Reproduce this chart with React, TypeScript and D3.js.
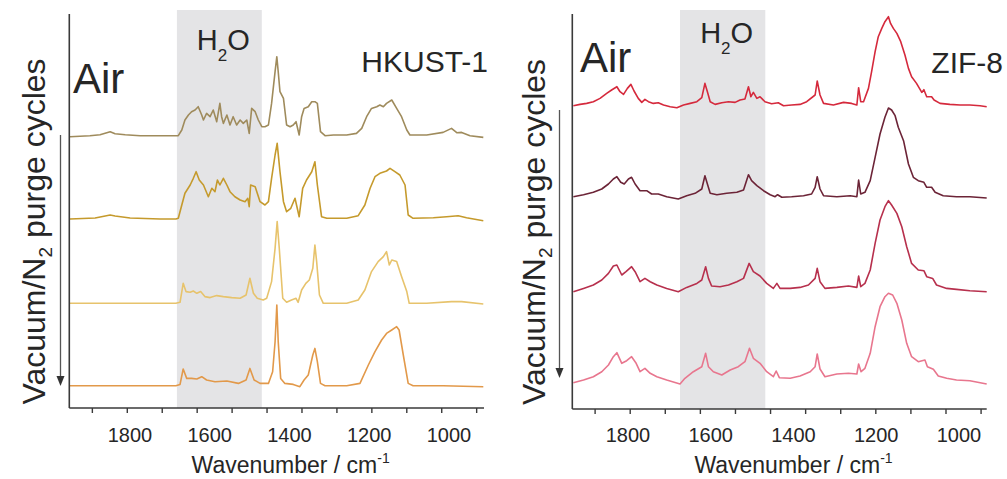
import React from 'react';
import * as d3 from 'd3';

// ---------- data (wavenumber in cm-1, intensity in a.u. above each trace's baseline) ----------
const tickValues = [1900, 1800, 1700, 1600, 1500, 1400, 1300, 1200, 1100, 1000, 900, 800];
const tickLabels = [1800, 1600, 1400, 1200, 1000];
const waterBand: [number, number] = [1658, 1415];

const hkustAir: [number, number][] = [
  [1964,0],[1907,1],[1878,2],[1849,5],[1835,3],[1806,2],[1763,1],[1706,1],[1663,1],
  [1654,1],[1644,6.7],[1635,16.7],[1625,21.7],[1616,25],[1606,26.7],[1597,30],[1587,21.7],[1582,16.7],[1573,23.3],[1563,20],[1554,26.7],[1544,15],[1535,33.3],[1530,20],[1525,13.3],[1515,21.7],[1506,11.7],[1497,20],[1487,11.7],[1477,16.7],[1468,13.3],[1458,16.7],[1451,3.3],[1444,28.3],[1434,25],[1425,16.7],[1415,10],[1406,10],[1396,11.7],[1387,33.3],[1377,65],[1372,80],[1368,65],[1363,45],[1353,38.3],[1344,11.7],[1334,10],[1325,11.7],[1317,15],[1308,1.7],[1301,20],[1294,28.3],[1282,30],[1272,35],[1263,35],[1256,33.3],[1247,5],[1234,1],[1210,1.7],[1172,1.7],[1144,3.3],[1129,8.3],[1115,20],[1101,28.3],[1086,30],[1077,31.7],[1067,30],[1058,33.3],[1043,36.7],[1029,28.3],[1015,20],[1000,6.7],[991,1.7],[943,1.7],[896,4.3],[872,8.3],[857,4],[843,4.3],[819,1],[781,-0.7]
];
const hkustCycle1: [number, number][] = [
  [1964,0],[1892,1],[1849,4],[1835,3],[1792,1],[1706,0],[1661,0],
  [1654,0.7],[1644,14],[1635,25.7],[1620,34],[1611,40.7],[1603,47.3],[1594,39],[1582,34],[1568,22.3],[1558,30.7],[1549,27.3],[1542,39],[1535,34],[1525,40.7],[1515,34],[1506,27.3],[1492,22.3],[1477,19],[1463,17.3],[1455,20.7],[1451,12.3],[1447,34],[1434,32.3],[1420,17.3],[1406,14],[1396,17.3],[1387,40.7],[1377,64],[1371,75.7],[1363,47.3],[1353,17.3],[1344,7.3],[1332,10.7],[1320,20.7],[1308,2.3],[1298,30.7],[1287,39],[1272,47.3],[1263,57.3],[1256,34],[1244,2.3],[1229,0.7],[1172,0.7],[1139,3.3],[1120,14],[1105,30.7],[1091,42.3],[1077,45.7],[1058,48],[1048,50.7],[1034,47.3],[1020,44],[1005,34],[996,4],[982,0.7],[924,1.3],[886,2.3],[853,3.3],[829,1.3],[781,-1.7]
];
const hkustCycle2: [number, number][] = [
  [1964,0],[1820,0],[1706,0],[1661,0],
  [1649,1],[1640,20],[1632,11.7],[1620,11],[1611,12.3],[1601,10],[1590,11.7],[1578,6.7],[1563,5.7],[1544,7.7],[1525,6.7],[1501,5.7],[1477,5],[1460,8.3],[1449,25],[1439,10],[1428,5],[1411,3.3],[1401,5],[1387,21.7],[1377,55],[1371,81.7],[1365,55],[1355,5],[1344,1],[1330,3.3],[1317,5],[1311,1],[1301,13.3],[1289,20],[1279,23.3],[1269,35],[1263,58.3],[1258,41.7],[1250,8.3],[1239,0],[1172,0],[1139,3.3],[1120,13.3],[1101,31.7],[1082,41.7],[1067,46.7],[1058,51.7],[1050,38.3],[1043,43.3],[1029,41.7],[1015,26.7],[1000,11.7],[993,0],[943,0],[872,1.7],[843,1.7],[781,-0.7]
];
const hkustCycle3: [number, number][] = [
  [1964,0],[1820,0],[1706,0],[1661,0],
  [1649,1.3],[1640,16.7],[1630,7.3],[1616,7.3],[1601,6.7],[1587,9],[1573,5.7],[1549,4],[1515,4.7],[1482,2.3],[1460,5.7],[1449,17.3],[1437,5.7],[1420,2.3],[1396,2.3],[1384,14],[1377,44],[1372,80.7],[1368,44],[1361,7.3],[1349,2.3],[1325,1.3],[1306,-1],[1294,5.7],[1282,10.7],[1269,30.7],[1263,37.3],[1256,24],[1247,2.3],[1234,0],[1172,0],[1134,2.3],[1110,20.7],[1091,34],[1072,45.7],[1058,52.3],[1043,55.7],[1029,59],[1022,55.7],[1010,30.7],[996,2.3],[982,0],[896,0],[781,-1]
];

const zifAir: [number, number][] = [
  [1962,2],[1943,3.3],[1924,4.3],[1905,6],[1886,9.3],[1867,14.3],[1853,17.7],[1838,21],[1829,16],[1819,13.3],[1808,19.3],[1798,23.3],[1789,16.7],[1777,9.3],[1767,5.3],[1758,8.3],[1748,6],[1734,4.3],[1720,5],[1705,2.7],[1686,1],[1667,0],[1648,2.7],[1629,4.3],[1610,6],[1596,10],[1587,24.3],[1580,16],[1572,6],[1558,3.3],[1539,5],[1520,6],[1501,5.3],[1487,7.7],[1473,8.7],[1463,21],[1456,11],[1449,15.3],[1439,9.3],[1430,11],[1416,6],[1397,4],[1378,5],[1363,2],[1340,2.7],[1316,3.3],[1297,6],[1273,12.7],[1267,26.7],[1259,12.7],[1249,4.3],[1221,2.7],[1192,5.3],[1169,4.3],[1154,2.7],[1149,20],[1143,6],[1135,6],[1121,19.3],[1112,36],[1102,56],[1093,71],[1083,79.3],[1074,86],[1064,91],[1058,84.3],[1050,79.3],[1040,74.3],[1029,66],[1017,52.7],[1007,39.3],[998,31],[984,24.3],[969,15.3],[963,18],[955,11],[941,11],[934,7.7],[917,4.3],[889,3.3],[860,2.7],[832,2.7],[803,2],[784,1]
];
const zifCycle1: [number, number][] = [
  [1962,2.3],[1933,4.3],[1905,6.7],[1881,10],[1862,15],[1848,20],[1838,22.3],[1827,16.7],[1817,15],[1805,20],[1796,21.7],[1786,15],[1772,8.3],[1753,8.3],[1739,5],[1720,5],[1696,2.3],[1663,0],[1639,3.3],[1615,5.7],[1596,10],[1587,23.3],[1580,15],[1572,5.7],[1553,4.3],[1525,5.7],[1496,6.7],[1477,9],[1463,24.3],[1454,18.3],[1439,13.3],[1420,8.3],[1401,4.3],[1387,2.3],[1380,4.3],[1368,1.7],[1340,2.3],[1306,3.3],[1283,5],[1273,11.7],[1267,22.3],[1259,10],[1249,3.3],[1211,2.3],[1173,3.3],[1154,2.3],[1149,19],[1143,5],[1131,6.7],[1116,18.3],[1102,41.7],[1088,65],[1074,81.7],[1064,91],[1055,89],[1045,83.3],[1036,71.7],[1021,58.3],[1007,35],[993,21.7],[979,18.3],[963,16.7],[955,11.7],[941,11.7],[931,6.7],[908,3.3],[870,2.3],[832,2.3],[784,1]
];
const zifCycle2: [number, number][] = [
  [1962,0],[1933,3.3],[1905,6.7],[1881,11.7],[1862,18.3],[1848,25.7],[1838,26.7],[1824,16.7],[1812,20],[1796,25],[1786,20],[1772,10],[1758,13.3],[1743,10],[1724,6.7],[1696,3.3],[1663,0],[1639,4.3],[1610,8.3],[1596,11.7],[1585,25],[1577,13.3],[1568,5.7],[1544,5],[1520,6.7],[1496,10],[1477,13.3],[1461,28.3],[1449,20],[1430,15.7],[1411,8.3],[1392,3.3],[1382,8.3],[1373,3.3],[1344,3.3],[1316,4.3],[1292,6.7],[1273,13.3],[1267,23.3],[1259,10],[1245,3.3],[1211,4.3],[1178,5.7],[1154,4.3],[1149,15.7],[1143,5],[1131,8.3],[1116,21.7],[1102,48.3],[1088,71.7],[1074,85],[1064,91],[1055,86.7],[1040,78.3],[1026,65],[1012,45],[998,28.3],[979,21.7],[963,21],[955,15],[938,13.3],[927,6.7],[898,3.3],[870,2.3],[832,1],[784,0]
];
const zifCycle3: [number, number][] = [
  [1962,1.3],[1933,4],[1905,7.3],[1881,12.3],[1862,19],[1848,27.3],[1838,31.3],[1824,20.7],[1810,23.3],[1796,27.3],[1783,20.7],[1772,12.3],[1758,15.7],[1743,10.7],[1724,7.3],[1696,4],[1658,0],[1644,5.7],[1620,12.3],[1596,17.3],[1585,30.7],[1577,17.3],[1563,12.3],[1539,9],[1515,14],[1492,17.3],[1473,22.3],[1460,35.7],[1449,25.7],[1430,20.7],[1411,12.3],[1392,7.3],[1384,13],[1375,6.3],[1344,5.7],[1316,8],[1287,12.3],[1273,17.3],[1267,30],[1259,15],[1245,7.3],[1211,10],[1178,10.7],[1154,10],[1149,20],[1142,12.3],[1131,15.7],[1116,30.7],[1102,57.3],[1088,77.3],[1074,87.3],[1064,90.7],[1052,89],[1040,80.7],[1026,64],[1012,40.7],[998,27.3],[979,22.3],[960,24],[953,17.3],[936,14.7],[922,8],[898,5.7],[870,4],[832,3.3],[784,0]
];

const hkustSeries = [hkustAir, hkustCycle1, hkustCycle2, hkustCycle3];
const hkustOffsets = [271.3, 189, 104.7, 22.3];
const hkustColors = ['#9f8b5c', '#c59a2c', '#e7c36c', '#e2994a'];

const zifSeries = [zifAir, zifCycle1, zifCycle2, zifCycle3];
const zifOffsets = [301.3, 210, 117.3, 25];
const zifColors = ['#d5293c', '#6c2437', '#b7304d', '#e8768e'];

// ---------- layout ----------
const FONT = '"Liberation Sans", Arial, Helvetica, sans-serif';
const TEXT = '#262626';
const AXIS = '#3a3a3a';

type PanelCfg = {
  key: string;
  series: [number, number][][];
  offsets: number[];
  colors: string[];
  domain: [number, number];
  xRange: [number, number];
  yRange: [number, number];
  yMax: number;
  axisTop: number;
  labelRange: [number, number];
  arrowX: number;
  arrowTop: number;
  arrowBottom: number;
  ylabelX: number;
  airX: number;
  airY: number;
  name: string;
  nameX: number;
  nameY: number;
  h2oY: number;
};

const panels: PanelCfg[] = [
  {
    key: 'hkust', series: hkustSeries, offsets: hkustOffsets, colors: hkustColors,
    domain: [1966, 779], xRange: [69.3, 484], yRange: [408, 10], yMax: 398, axisTop: 14,
    labelRange: [130, 449], arrowX: 60.5, arrowTop: 135, arrowBottom: 386, ylabelX: 45,
    airX: 73, airY: 93, name: 'HKUST-1', nameX: 488, nameY: 72, h2oY: 50,
  },
  {
    key: 'zif', series: zifSeries, offsets: zifOffsets, colors: zifColors,
    domain: [1965, 784], xRange: [572.3, 986.7], yRange: [409, 10], yMax: 399, axisTop: 14,
    labelRange: [628, 959], arrowX: 559.5, arrowTop: 110, arrowBottom: 378, ylabelX: 545,
    airX: 580, airY: 72, name: 'ZIF-8', nameX: 1003, nameY: 73, h2oY: 43,
  },
];

function Panel({ cfg }: { cfg: PanelCfg }) {
  const x = d3.scaleLinear().domain(cfg.domain).range(cfg.xRange);
  const y = d3.scaleLinear().domain([0, cfg.yMax]).range(cfg.yRange);
  const labelX = d3.scaleLinear().domain([tickLabels[0], tickLabels[tickLabels.length - 1]]).range(cfg.labelRange);
  const axisY = cfg.yRange[0];
  const band0 = x(waterBand[0]);
  const band1 = x(waterBand[1]);
  const yCenter = (55 + axisY) / 2;
  return (
    <g>
      <rect x={band0} y={cfg.yRange[1]} width={band1 - band0} height={axisY - cfg.yRange[1]} fill="#e4e4e6" />
      {cfg.series.map((s, i) => {
        const line = d3.line<[number, number]>()
          .x((d) => x(d[0]))
          .y((d) => y(d[1] + cfg.offsets[i]))
          .curve(d3.curveLinear);
        return (
          <path key={i} d={line(s) || ''} fill="none" stroke={cfg.colors[i]} strokeWidth={1.6} strokeLinejoin="round" />
        );
      })}
      {/* axes */}
      <line x1={cfg.xRange[0]} x2={cfg.xRange[0]} y1={cfg.axisTop} y2={axisY} stroke={AXIS} strokeWidth={1.6} />
      <line x1={cfg.xRange[0]} x2={cfg.xRange[1]} y1={axisY} y2={axisY} stroke={AXIS} strokeWidth={1.6} />
      {tickValues.map((t) => (
        <line key={t} x1={x(t)} x2={x(t)} y1={axisY} y2={axisY + 5} stroke={AXIS} strokeWidth={1.4} />
      ))}
      {tickLabels.map((t) => (
        <text key={t} x={labelX(t)} y={442} textAnchor="middle" fontFamily={FONT} fontSize={20} fill={TEXT}>{t}</text>
      ))}
      <text x={(cfg.xRange[0] + cfg.xRange[1]) / 2 + 14} y={473} textAnchor="middle" fontFamily={FONT} fontSize={23} fill={TEXT}>
        Wavenumber / cm<tspan fontSize={14} dy={-10}>-1</tspan>
      </text>
      {/* y label */}
      <text transform={`translate(${cfg.ylabelX},${yCenter}) rotate(-90)`} textAnchor="middle" fontFamily={FONT} fontSize={32} fill={TEXT}>
        Vacuum/N<tspan fontSize={19} dy={7}>2</tspan><tspan dy={-7}> purge cycles</tspan>
      </text>
      {/* arrow */}
      <line x1={cfg.arrowX} x2={cfg.arrowX} y1={cfg.arrowTop} y2={cfg.arrowBottom - 8} stroke="#555" strokeWidth={1.3} />
      <path d={`M${cfg.arrowX - 4},${cfg.arrowBottom - 10} L${cfg.arrowX + 4},${cfg.arrowBottom - 10} L${cfg.arrowX},${cfg.arrowBottom} Z`} fill="#333" />
      {/* annotations */}
      <text x={cfg.airX} y={cfg.airY} fontFamily={FONT} fontSize={42} fill={TEXT}>Air</text>
      <text x={cfg.nameX} y={cfg.nameY} textAnchor="end" fontFamily={FONT} fontSize={30} fill={TEXT}>{cfg.name}</text>
      <text x={(band0 + band1) / 2 + 4} y={cfg.h2oY} textAnchor="middle" fontFamily={FONT} fontSize={29} fill={TEXT}>
        H<tspan fontSize={17} dy={11}>2</tspan><tspan dy={-11}>O</tspan>
      </text>
    </g>
  );
}

export default function App() {
  return (
    <svg width={1007} height={479} viewBox="0 0 1007 479" style={{ position: 'absolute', left: 0, top: 0, background: '#fff' }}>
      <rect x={0} y={0} width={1007} height={479} fill="#fff" />
      {panels.map((p) => (
        <Panel key={p.key} cfg={p} />
      ))}
    </svg>
  );
}
